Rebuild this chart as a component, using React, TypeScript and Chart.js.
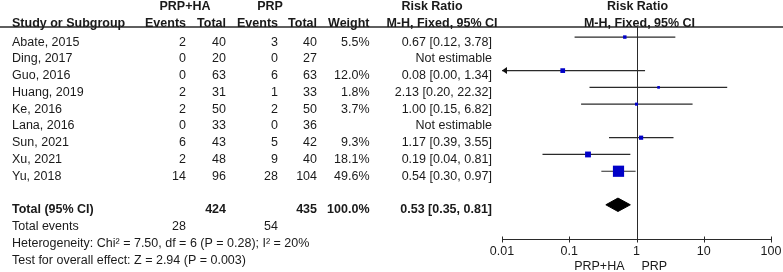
import React, { useEffect, useRef } from "react";
import { Chart, registerables } from "chart.js";

Chart.register(...registerables);

// ---------- data ----------
const studies = ["Abate, 2015", "Ding, 2017", "Guo, 2016", "Huang, 2019", "Ke, 2016", "Lana, 2016", "Sun, 2021", "Xu, 2021", "Yu, 2018"];
const eventsA = [2, 0, 0, 2, 2, 0, 6, 2, 14];
const totalA = [40, 20, 63, 31, 50, 33, 43, 48, 96];
const eventsB = [3, 0, 6, 1, 2, 0, 5, 9, 28];
const totalB = [40, 27, 63, 33, 50, 36, 42, 40, 104];
const weights: (number | null)[] = [5.5, null, 12.0, 1.8, 3.7, null, 9.3, 18.1, 49.6];
const riskRatio: (number | null)[] = [0.67, null, 0.08, 2.13, 1.0, null, 1.17, 0.19, 0.54];
const ciLower: (number | null)[] = [0.12, null, 0.0, 0.2, 0.15, null, 0.39, 0.04, 0.3];
const ciUpper: (number | null)[] = [3.78, null, 1.34, 22.32, 6.82, null, 3.55, 0.81, 0.97];

const totalSizeA = 424;
const totalSizeB = 435;
const totalWeight = 100.0;
const totalEventsA = 28;
const totalEventsB = 54;
const pooled = [0.53, 0.35, 0.81]; // estimate, lower, upper

const heterogeneityText = "Heterogeneity: Chi² = 7.50, df = 6 (P = 0.28); I² = 20%";
const overallText = "Test for overall effect: Z = 2.94 (P = 0.003)";

const groupA = "PRP+HA";
const groupB = "PRP";
const xTicks = [0.01, 0.1, 1, 10, 100];
const xTickLabels = ["0.01", "0.1", "1", "10", "100"];

// ---------- styling ----------
const FONT = "'Liberation Sans', Arial, Helvetica, sans-serif";
const FS = 12.5;
const TEXT = "#1a1a1a";
const LINE = "#2a2a2a";
const SQUARE = "#0000c8";
const X_MIN = xTicks[0];
const X_MAX = xTicks[xTicks.length - 1];
const TOTAL_ROW = studies.length + 1;

const fmt2 = (v: number) => v.toFixed(2);
const ciText = (e: number, l: number, u: number) => `${fmt2(e)} [${fmt2(l)}, ${fmt2(u)}]`;

const maxW = Math.max(...(weights.filter((w) => w != null) as number[]));
const squareSide = (w: number) => 2.2 + 9 * Math.pow(w / maxW, 0.9);

const forestPlugin = {
  id: "forest",
  beforeDatasetsDraw(chart: any) {
    const { ctx, chartArea, scales } = chart;
    const x = scales.x;
    ctx.save();
    ctx.strokeStyle = LINE;
    ctx.lineWidth = 1.5;
    ctx.beginPath();
    ctx.moveTo(0, chartArea.top);
    ctx.lineTo(chart.width, chartArea.top);
    ctx.stroke();
    const x1 = Math.round(x.getPixelForValue(1)) + 0.5;
    ctx.lineWidth = 1;
    ctx.beginPath();
    ctx.moveTo(x1, chartArea.top);
    ctx.lineTo(x1, chartArea.bottom);
    ctx.stroke();
    ctx.restore();
  },
  afterDatasetsDraw(chart: any) {
    const { ctx, chartArea, scales } = chart;
    const x = scales.x;
    const y = scales.y;
    ctx.save();

    // arrows for clipped CIs
    ctx.fillStyle = "#111";
    studies.forEach((_, i) => {
      const lo = ciLower[i];
      if (lo != null && lo < X_MIN) {
        const px = x.getPixelForValue(X_MIN);
        const py = y.getPixelForValue(i);
        ctx.beginPath();
        ctx.moveTo(px, py);
        ctx.lineTo(px + 5, py - 3.5);
        ctx.lineTo(px + 5, py + 3.5);
        ctx.closePath();
        ctx.fill();
      }
    });

    // axis
    const ab = Math.round(chartArea.bottom) + 0.5;
    ctx.strokeStyle = LINE;
    ctx.lineWidth = 1;
    ctx.beginPath();
    ctx.moveTo(x.getPixelForValue(X_MIN), ab);
    ctx.lineTo(x.getPixelForValue(X_MAX), ab);
    xTicks.forEach((t) => {
      const tx = Math.round(x.getPixelForValue(t)) + 0.5;
      ctx.moveTo(tx, ab - 3);
      ctx.lineTo(tx, ab + 3);
    });
    ctx.stroke();

    ctx.fillStyle = TEXT;
    ctx.font = `${FS}px ${FONT}`;
    ctx.textAlign = "center";
    ctx.textBaseline = "alphabetic";
    xTicks.forEach((t, k) => {
      ctx.fillText(xTickLabels[k], x.getPixelForValue(t), chartArea.bottom + 16);
    });
    const x1 = x.getPixelForValue(1);
    ctx.textAlign = "right";
    ctx.fillText(groupA, x1 - 12, chartArea.bottom + 30.5);
    ctx.textAlign = "left";
    ctx.fillText(groupB, x1 + 5, chartArea.bottom + 30.5);

    // table text
    const txt = (s: string, px: number, row: number, align: CanvasTextAlign, bold = false) => {
      ctx.font = `${bold ? "bold " : ""}${FS}px ${FONT}`;
      ctx.textAlign = align;
      ctx.fillText(s, px, y.getPixelForValue(row) + 8.5);
    };
    const C = { name: 12, eA: 186, tA: 226, eB: 278, tB: 317, w: 369.5, ci: 492 };

    // headers
    const h2 = -2.1;
    const h1 = -1.1;
    txt(groupA, 185, h2, "center", true);
    txt(groupB, 270, h2, "center", true);
    txt("Risk Ratio", 432, h2, "center", true);
    txt("Risk Ratio", x1 + 1, h2, "center", true);
    txt("Study or Subgroup", C.name, h1, "left", true);
    txt("Events", C.eA, h1, "right", true);
    txt("Total", C.tA, h1, "right", true);
    txt("Events", C.eB, h1, "right", true);
    txt("Total", C.tB, h1, "right", true);
    txt("Weight", C.w, h1, "right", true);
    txt("M-H, Fixed, 95% CI", 442, h1, "center", true);
    txt("M-H, Fixed, 95% CI", x1 + 3, h1, "center", true);

    studies.forEach((s, i) => {
      txt(s, C.name, i, "left");
      txt(String(eventsA[i]), C.eA, i, "right");
      txt(String(totalA[i]), C.tA, i, "right");
      txt(String(eventsB[i]), C.eB, i, "right");
      txt(String(totalB[i]), C.tB, i, "right");
      const w = weights[i];
      if (w != null) txt(`${w.toFixed(1)}%`, C.w, i, "right");
      const e = riskRatio[i];
      if (e != null) txt(ciText(e, ciLower[i] as number, ciUpper[i] as number), C.ci, i, "right");
      else txt("Not estimable", C.ci, i, "right");
    });

    txt("Total (95% CI)", C.name, TOTAL_ROW, "left", true);
    txt(String(totalSizeA), C.tA, TOTAL_ROW, "right", true);
    txt(String(totalSizeB), C.tB, TOTAL_ROW, "right", true);
    txt(`${totalWeight.toFixed(1)}%`, C.w, TOTAL_ROW, "right", true);
    txt(ciText(pooled[0], pooled[1], pooled[2]), C.ci, TOTAL_ROW, "right", true);

    txt("Total events", C.name, TOTAL_ROW + 1, "left");
    txt(String(totalEventsA), C.eA, TOTAL_ROW + 1, "right");
    txt(String(totalEventsB), C.eB, TOTAL_ROW + 1, "right");
    txt(heterogeneityText, C.name, TOTAL_ROW + 2, "left");
    txt(overallText, C.name, TOTAL_ROW + 3, "left");

    ctx.restore();
  },
};

export default function App() {
  const ref = useRef<HTMLCanvasElement | null>(null);

  useEffect(() => {
    if (!ref.current) return;
    const squares: { x: number; y: number }[] = [];
    const radii: number[] = [];
    const ciSets: any[] = [];
    studies.forEach((_, i) => {
      const e = riskRatio[i];
      if (e == null) return;
      squares.push({ x: e, y: i });
      radii.push(squareSide(weights[i] as number) / Math.SQRT2);
      ciSets.push({
        type: "scatter",
        data: [
          { x: Math.max(ciLower[i] as number, X_MIN), y: i },
          { x: Math.min(ciUpper[i] as number, X_MAX), y: i },
        ],
        showLine: true,
        borderColor: LINE,
        borderWidth: 1.2,
        pointRadius: 0,
        fill: false,
        order: 3,
      });
    });
    const dh = 0.4;
    const diamond = [
      { x: pooled[1], y: TOTAL_ROW },
      { x: pooled[0], y: TOTAL_ROW - dh },
      { x: pooled[2], y: TOTAL_ROW },
      { x: pooled[0], y: TOTAL_ROW + dh },
      { x: pooled[1], y: TOTAL_ROW },
    ];

    const chart = new Chart(ref.current, {
      type: "scatter",
      data: {
        datasets: [
          {
            type: "scatter",
            data: squares,
            pointStyle: "rect",
            pointRadius: radii,
            pointBackgroundColor: SQUARE,
            pointBorderWidth: 0,
            borderWidth: 0,
            order: 0,
          } as any,
          {
            type: "scatter",
            data: diamond,
            showLine: true,
            fill: "shape",
            backgroundColor: "#000",
            borderColor: "#000",
            borderWidth: 1,
            pointRadius: 0,
            tension: 0,
            order: 1,
          } as any,
          ...ciSets,
        ],
      },
      options: {
        responsive: false,
        animation: false,
        events: [],
        layout: { padding: { left: 502, right: 12, top: 27, bottom: 33 } },
        scales: {
          x: { type: "logarithmic", min: X_MIN, max: X_MAX, display: false },
          y: { type: "linear", min: -0.6, max: 12.04, reverse: true, display: false },
        },
        plugins: { legend: { display: false }, tooltip: { enabled: false } },
      },
      plugins: [forestPlugin],
    });
    return () => chart.destroy();
  }, []);

  return (
    <div style={{ position: "fixed", left: 0, top: 0, width: 783, height: 272, background: "#fff" }}>
      <canvas ref={ref} width={783} height={272} />
    </div>
  );
}
